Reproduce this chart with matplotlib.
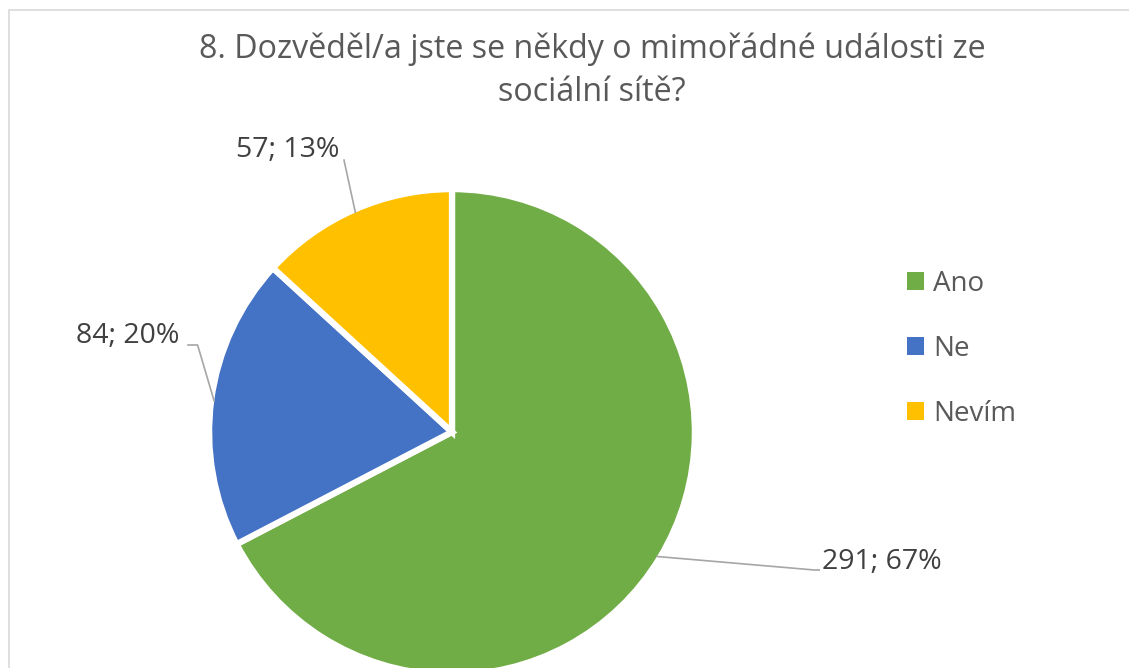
import numpy as np
import matplotlib.pyplot as plt
from matplotlib.patches import Rectangle
from matplotlib.lines import Line2D

# data
categories = ['Ano', 'Ne', 'Nevím']
counts = [291, 84, 57]
percent_labels = ['67%', '20%', '13%']
colors = ['#70AD47', '#4472C4', '#FFC000']
title = '8. Dozvěděl/a jste se někdy o mimořádné události ze\nsociální sítě?'

plt.rcParams['font.family'] = ['Open Sans', 'DejaVu Sans']

W, H = 1129, 668
fig = plt.figure(figsize=(W / 100, H / 100), dpi=100)

# light chart-area border (cut off at right and bottom, as in the source)
fig.patches.append(Rectangle((9 / W, -0.05), 1.2, 1.05 - 10 / H, transform=fig.transFigure,
                             fill=False, edgecolor='#D9D9D9', linewidth=1.2))

# pie axes: centre ~ (452, 432) px, radius ~ 240 px
cx, cy, r = 452, 432, 240
ax = fig.add_axes([(cx - r) / W, (H - cy - r) / H, 2 * r / W, 2 * r / H])

wedges, _ = ax.pie(counts, colors=colors, startangle=90, counterclock=False, radius=1.012,
                   wedgeprops={'edgecolor': 'white', 'linewidth': 4.5})
ax.set_xlim(-1, 1)
ax.set_ylim(-1, 1)
ax.set_aspect('equal')
ax.axis('off')
for w in wedges:
    w.set_clip_on(False)

# data labels with leader lines: (elbow point, text position, alignment)
label_layout = [
    ((1.51, -0.575), (1.54, -0.54), 'left'),
    ((-1.06, 0.3625), (-1.135, 0.40), 'right'),
    ((-0.45, 1.133), (-0.683, 1.175), 'center'),
]
for w, n, pct, (elbow, tpos, ha) in zip(wedges, counts, percent_labels, label_layout):
    mid = np.deg2rad((w.theta1 + w.theta2) / 2)
    start = (np.cos(mid), np.sin(mid))
    xs, ys = [start[0], elbow[0]], [start[1], elbow[1]]
    if ha == 'right':
        xs.append(elbow[0] - 0.04)
        ys.append(elbow[1])
    elif ha == 'left':
        xs.append(elbow[0] + 0.02)
        ys.append(elbow[1])
    ax.add_line(Line2D(xs, ys, color='#A6A6A6', linewidth=1.2, clip_on=False))
    ax.text(tpos[0], tpos[1], f'{n}; {pct}', ha=ha, va='center', fontsize=20.5,
            color='#404040', clip_on=False)

# title
fig.text(592 / W, 1 - 33 / H, title, ha='center', va='top', fontsize=23.2,
         color='#595959', linespacing=1.38)

# legend
handles = [Rectangle((0, 0), 1, 1, facecolor=c, edgecolor='none') for c in colors]
fig.legend(handles, categories, loc='upper left', bbox_to_anchor=(882 / W, 1 - 245 / H),
           frameon=False, fontsize=20, labelcolor='#595959', handlelength=0.6,
           handleheight=0.6, handletextpad=0.35, labelspacing=1.33)

fig.savefig('out.png', dpi=100)
